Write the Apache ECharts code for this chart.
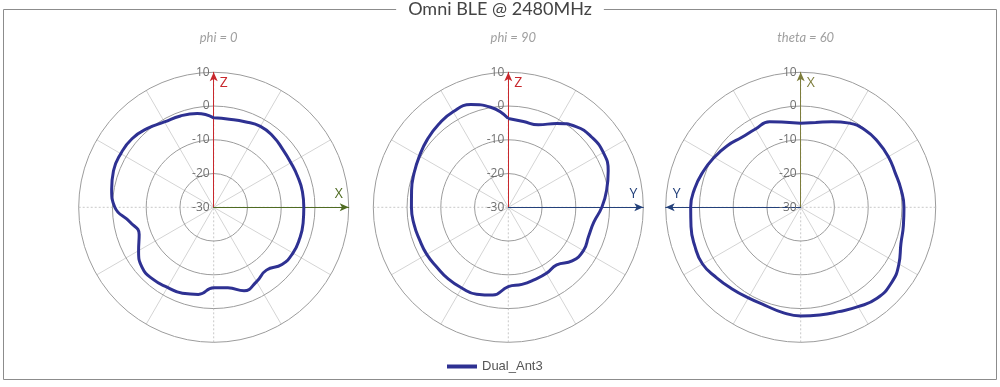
<!DOCTYPE html>
<html>
<head>
<meta charset="utf-8">
<script src="https://cdn.jsdelivr.net/npm/echarts@6/dist/echarts.min.js"></script>
<style>
  html, body { margin: 0; padding: 0; background: #fff; }
  #chart { width: 1000px; height: 387px; }
</style>
</head>
<body>
<div id="chart"></div>
<script>
  // angle in degrees, clockwise from the upward axis of each panel
  let angles = [0, 10, 20, 30, 40, 50, 60, 70, 80, 90, 100, 110, 120, 130, 140, 150, 160, 170,
                180, 190, 200, 210, 220, 230, 240, 250, 260, 270, 280, 290, 300, 310, 320, 330, 340, 350]

  // gain in dB
  let phi0 = [-3.5, -3.5, -3.0, -2.3, -2.6, -3.3, -3.6, -3.5, -3.3, -3.3, -3.1, -2.9, -2.9, -3.6, -5.7, -4.6, -3.7, -5.8,
              -6.2, -3.8, -2.9, -2.6, -2.1, -2.3, -4.3, -6.5, -4.8, -0.7, 0.7, 1.6, 1.8, 1.6, 0.5, -0.8, -1.2, -1.8]
  let phi90 = [-3.7, -4.2, -4.0, -1.3, 1.2, 2.3, 2.5, 1.5, -0.4, -2.3, -4.3, -4.7, -4.3, -5.3, -7.7, -7.4, -7.2, -6.8,
               -6.5, -3.6, -2.6, -2.4, -2.3, -2.4, -2.1, -2.0, -1.6, -1.3, -0.9, -0.3, 0.4, 1.3, 2.1, 2.7, 2.4, 0.1]
  let theta60 = [-5.1, -4.5, -3.0, -1.2, -0.2, 0.0, 0.0, -0.2, 0.2, 0.6, 0.9, 1.6, 3.6, 5.0, 5.2, 4.0, 2.9, 2.4,
                 2.2, 1.6, 0.9, 1.0, 1.6, 2.5, 3.6, 3.4, 3.0, 2.6, 1.9, 0.8, -0.4, -1.6, -2.9, -3.2, -3.0, -4.4]

  let ringMin = -30
  let ringMax = 10
  let ringStep = 10

  let panelTitles = ['phi = 0', 'phi = 90', 'theta = 60']
  let upNames = ['Z', 'Z', 'X']
  let sideNames = ['X', 'Y', 'Y']
  let seriesName = 'Dual_Ant3'

  let panels = [
    {cx: 213.7, values: phi0, upColor: '#c8282d', sideColor: '#4f6b22', side: 0},
    {cx: 508.3, values: phi90, upColor: '#c8282d', sideColor: '#23407a', side: 0},
    {cx: 800.7, values: theta60, upColor: '#7d7d3c', sideColor: '#23407a', side: 180}
  ]
  let cy = 207.3
  let radius = 135

  let chart = echarts.init(document.getElementById('chart'))

  let polar = [], angleAxis = [], radiusAxis = [], series = [], title = [], graphic = []

  title.push({
    text: 'Omni BLE @ 2480MHz',
    left: 'center',
    top: 0,
    padding: [0, 12],
    backgroundColor: '#fff',
    z: 10,
    textStyle: {fontFamily: 'Lato', fontSize: 18, fontWeight: 'normal', color: '#444'}
  })

  graphic.push({
    type: 'rect',
    z: -1,
    shape: {x: 3.5, y: 9.5, width: 993, height: 370},
    style: {fill: 'none', stroke: '#8c8c8c', lineWidth: 1}
  })

  panels.forEach((p, i) => {
    title.push({
      text: panelTitles[i],
      left: p.cx,
      top: 26,
      textAlign: 'center',
      textStyle: {fontFamily: 'Lato', fontSize: 13, fontStyle: 'italic', fontWeight: 'normal', color: '#a0a0a0'}
    })

    // main polar: rings, diagonal spokes, vertical arrow
    polar.push({center: [p.cx, cy], radius: radius})
    angleAxis.push({
      polarIndex: 2 * i,
      type: 'value', min: 0, max: 360, interval: 30,
      startAngle: 90, clockwise: true,
      axisLine: {show: false}, axisTick: {show: false}, axisLabel: {show: false},
      splitLine: {show: true, lineStyle: {color: ['rgba(0,0,0,0)', '#d4d4d4', '#d4d4d4'], width: 1}}
    })
    radiusAxis.push({
      polarIndex: 2 * i,
      type: 'value', min: ringMin, max: ringMax, interval: ringStep,
      axisLine: {show: true, symbol: ['none', 'arrow'], symbolSize: [6, 9], lineStyle: {color: p.upColor, width: 1}},
      axisTick: {show: false},
      axisLabel: {show: true, color: '#707070', fontSize: 12, fontFamily: 'Open Sans', margin: 4},
      splitLine: {show: true, lineStyle: {color: '#9c9c9c', width: 1}},
      z: 3
    })

    // second polar on the same centre: dotted cross and the horizontal arrow
    polar.push({center: [p.cx, cy], radius: radius})
    angleAxis.push({
      polarIndex: 2 * i + 1,
      type: 'value', min: 0, max: 360, interval: 90, startAngle: p.side,
      axisLine: {show: false}, axisTick: {show: false}, axisLabel: {show: false},
      splitLine: {show: true, lineStyle: {color: '#c8c8c8', width: 1, type: [2, 2]}}
    })
    radiusAxis.push({
      polarIndex: 2 * i + 1,
      type: 'value', min: ringMin, max: ringMax,
      axisLine: {show: true, symbol: ['none', 'arrow'], symbolSize: [6, 9], lineStyle: {color: p.sideColor, width: 1}},
      axisTick: {show: false}, axisLabel: {show: false}, splitLine: {show: false},
      z: 3
    })

    let data = angles.map((a, k) => [p.values[k], a])
    data.push([p.values[0], 360])
    series.push({
      name: seriesName,
      type: 'line',
      coordinateSystem: 'polar',
      polarIndex: 2 * i,
      smooth: true,
      showSymbol: false,
      silent: true,
      z: 5,
      lineStyle: {color: '#2e3192', width: 3},
      itemStyle: {color: '#2e3192'},
      data: data
    })

    graphic.push({
      type: 'text', x: p.cx + 10, y: cy - 124,
      style: {text: upNames[i], fill: p.upColor, font: '14px "Open Sans"', align: 'center', verticalAlign: 'middle'}
    })
    graphic.push({
      type: 'text', x: p.side === 0 ? p.cx + 125 : p.cx - 124, y: cy - 13,
      style: {text: sideNames[i], fill: p.sideColor, font: '14px "Open Sans"', align: 'center', verticalAlign: 'middle'}
    })
  })

  let options = {
    animation: false,
    title: title,
    polar: polar,
    angleAxis: angleAxis,
    radiusAxis: radiusAxis,
    legend: {
      data: [seriesName],
      left: 442,
      top: 355,
      icon: 'rect',
      itemWidth: 30,
      itemHeight: 4,
      textStyle: {color: '#555', fontSize: 13, fontFamily: 'Liberation Sans'}
    },
    graphic: graphic,
    series: series
  }

  chart.setOption(options, true)
</script>
</body>
</html>
